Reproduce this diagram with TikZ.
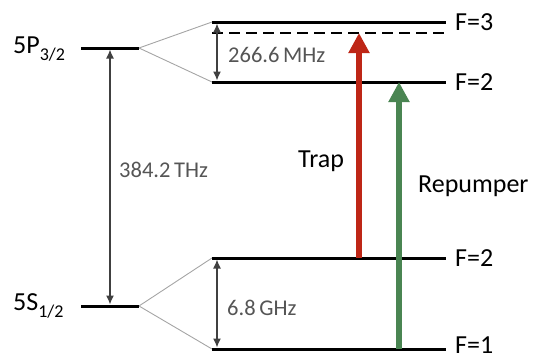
\documentclass[tikz,border=0pt]{standalone}
\usepackage{fontspec}
\setmainfont{Carlito}
\usetikzlibrary{arrows.meta}
\definecolor{trapred}{RGB}{190,38,22}
\definecolor{repgreen}{RGB}{74,133,82}
\definecolor{valgray}{RGB}{85,85,85}
\definecolor{fangray}{RGB}{165,165,165}
\definecolor{arrgray}{RGB}{64,64,64}
\newcommand{\subsc}[1]{\raisebox{-7pt}{\fontsize{18}{20}\selectfont #1}}
\begin{document}
\begin{tikzpicture}[x=1pt,y=-1pt,
  level/.style={line width=3pt},
  dashlevel/.style={line width=2.5pt, dash pattern=on 11pt off 6pt},
  fan/.style={fangray, line width=0.9pt},
  gap/.style={arrgray, line width=1.4pt, {Latex[length=9pt,width=8pt]}-{Latex[length=9pt,width=8pt]}, shorten >=1.5pt, shorten <=1.5pt},
  beam/.style={line width=6pt, -{Triangle[length=20pt,width=20pt]}},
  lab/.style={font=\fontsize{26}{30}\selectfont, inner sep=0pt},
  val/.style={font=\fontsize{22.5}{26}\selectfont, text=valgray, inner sep=0pt}]
\useasboundingbox (0,0) rectangle (542,359);
% fine-structure levels
\coordinate (Pl) at (81,48);  \coordinate (Pr) at (139,48);
\coordinate (Sl) at (81,306); \coordinate (Sr) at (139,306);
% hyperfine levels
\coordinate (F3a) at (212,22);  \coordinate (F3b) at (446,22);
\coordinate (Da)  at (212,33);  \coordinate (Db)  at (446,33);
\coordinate (F2ua) at (212,82); \coordinate (F2ub) at (446,82);
\coordinate (F2la) at (212,258); \coordinate (F2lb) at (446,258);
\coordinate (F1a) at (212,349); \coordinate (F1b) at (446,349);
% arrow anchors
\coordinate (Pg) at (110,48); \coordinate (Sg) at (110,306);
\coordinate (Hu1) at (217,22); \coordinate (Hu2) at (217,82);
\coordinate (Hl1) at (217,258); \coordinate (Hl2) at (217,349);
\coordinate (Tb) at (359,258); \coordinate (Tt) at (359,33);
\coordinate (Rb) at (399,349); \coordinate (Rt) at (399,82);

% fans
\draw[fan] (Pr) -- (F3a);
\draw[fan] (Pr) -- (F2ua);
\draw[fan] (Sr) -- (F2la);
\draw[fan] (Sr) -- (F1a);

% levels
\draw[level] (Pl) -- (Pr);
\draw[level] (Sl) -- (Sr);
\draw[level] (F3a) -- (F3b);
\draw[dashlevel] (Da) -- (Db);
\draw[level] (F2ua) -- (F2ub);
\draw[level] (F2la) -- (F2lb);
\draw[level] (F1a) -- (F1b);

% splittings
\draw[gap] (Pg) -- (Sg);
\draw[gap] (Hu1) -- (Hu2);
\draw[gap] (Hl1) -- (Hl2);

% lasers
\draw[beam, trapred] (Tb) -- (Tt);
\draw[beam, repgreen] (Rb) -- (Rt);

% labels
\node[lab, anchor=base west] (lP) at (13,53) {5P\subsc{3/2}};
\node[lab, anchor=base west] (lS) at (13,310) {5S\subsc{1/2}};
\node[lab, anchor=west] (lF3) at (455,22) {F=3};
\node[lab, anchor=west] (lF2u) at (455,82) {F=2};
\node[lab, anchor=west] (lF2l) at (455,258) {F=2};
\node[lab, anchor=west] (lF1) at (455,345) {F=1};
\node[lab, anchor=base west] (lT) at (298,167) {Trap};
\node[lab, anchor=base west] (lR) at (418,192) {Repumper};
\node[val, anchor=base west] (v1) at (119,177) {384.2\,THz};
\node[val, anchor=base west] (v2) at (228,62) {266.6\,MHz};
\node[val, anchor=base west] (v3) at (227,315) {6.8\,GHz};
\end{tikzpicture}
\end{document}
